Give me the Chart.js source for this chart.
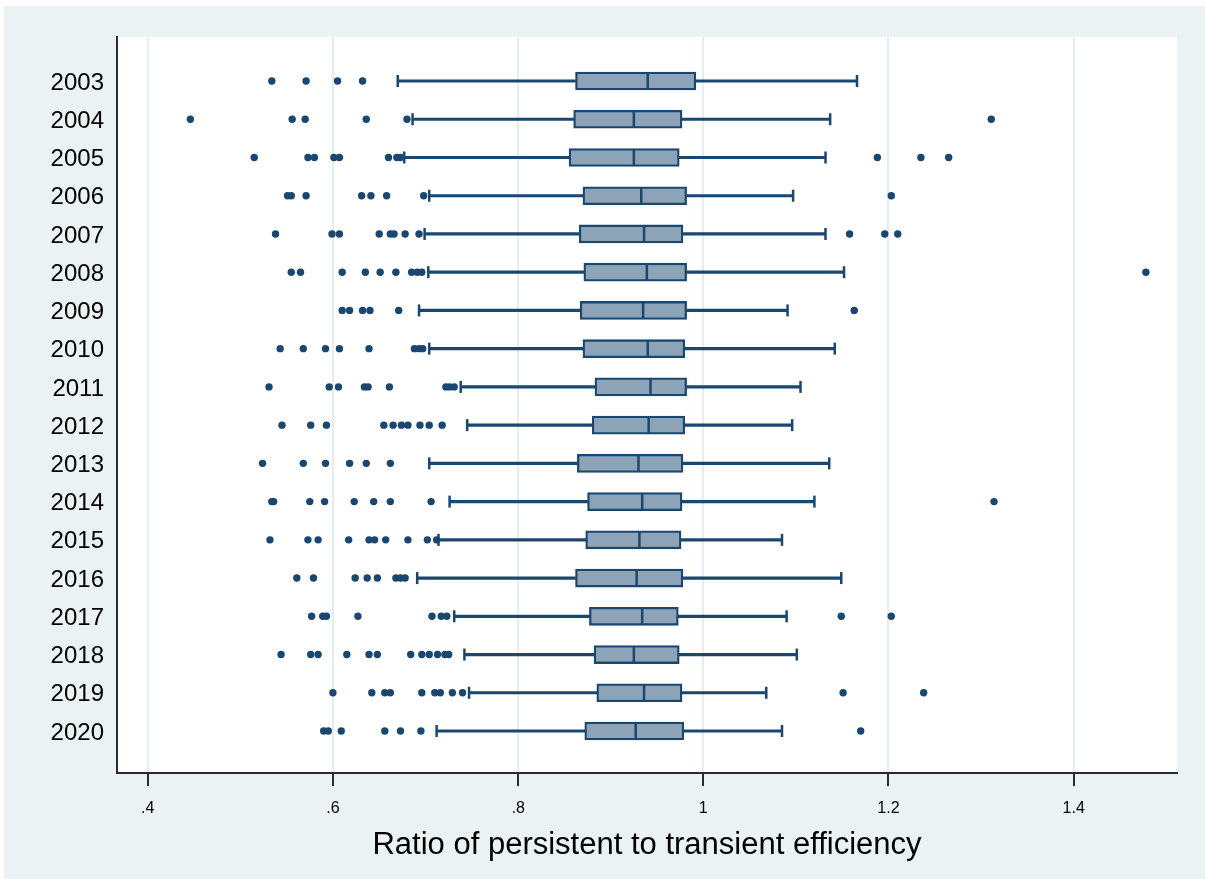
<!DOCTYPE html>
<html>
<head>
<meta charset="utf-8">
<script src="https://cdn.jsdelivr.net/npm/chart.js@4/dist/chart.umd.min.js"></script>
<style>
  html, body { margin: 0; padding: 0; background: #ffffff; }
  #box-chart { display: block; }
</style>
</head>
<body>
<canvas id="box-chart" width="1205" height="879"></canvas>
<script>
const years = ["2003", "2004", "2005", "2006", "2007", "2008", "2009", "2010", "2011",
  "2012", "2013", "2014", "2015", "2016", "2017", "2018", "2019", "2020"];

const lowWhisker = [0.670, 0.686, 0.677, 0.704, 0.699, 0.703, 0.693, 0.704, 0.738,
  0.745, 0.704, 0.726, 0.714, 0.691, 0.731, 0.742, 0.747, 0.712];
const q1 = [0.862, 0.860, 0.855, 0.870, 0.866, 0.871, 0.867, 0.870, 0.883,
  0.880, 0.864, 0.875, 0.873, 0.862, 0.877, 0.882, 0.885, 0.872];
const median = [0.940, 0.925, 0.925, 0.933, 0.936, 0.939, 0.935, 0.940, 0.943,
  0.941, 0.930, 0.934, 0.931, 0.928, 0.934, 0.925, 0.936, 0.927];
const q3 = [0.992, 0.977, 0.974, 0.982, 0.978, 0.982, 0.982, 0.980, 0.982,
  0.980, 0.978, 0.977, 0.976, 0.978, 0.973, 0.974, 0.977, 0.979];
const highWhisker = [1.166, 1.137, 1.132, 1.097, 1.132, 1.152, 1.091, 1.142, 1.105,
  1.096, 1.136, 1.120, 1.085, 1.149, 1.090, 1.101, 1.068, 1.085];

// outside values, one list per year
const outliers = [
  [0.534, 0.571, 0.605, 0.632],
  [0.446, 0.556, 0.570, 0.636, 0.680, 1.311],
  [0.515, 0.573, 0.580, 0.601, 0.607, 0.660, 0.669, 0.673, 1.188, 1.235, 1.265],
  [0.551, 0.555, 0.571, 0.631, 0.641, 0.658, 0.698, 1.203],
  [0.538, 0.599, 0.607, 0.650, 0.662, 0.666, 0.678, 0.693, 1.158, 1.196, 1.210],
  [0.555, 0.565, 0.610, 0.635, 0.651, 0.668, 0.685, 0.691, 0.696, 1.478],
  [0.610, 0.618, 0.632, 0.640, 0.671, 1.163],
  [0.543, 0.568, 0.592, 0.607, 0.639, 0.688, 0.693, 0.697],
  [0.531, 0.596, 0.606, 0.634, 0.638, 0.661, 0.722, 0.726, 0.731],
  [0.545, 0.576, 0.593, 0.655, 0.665, 0.674, 0.681, 0.694, 0.704, 0.718],
  [0.524, 0.568, 0.592, 0.618, 0.636, 0.662],
  [0.534, 0.536, 0.575, 0.591, 0.623, 0.644, 0.662, 0.706, 1.314],
  [0.532, 0.573, 0.584, 0.617, 0.639, 0.645, 0.657, 0.681, 0.702, 0.712],
  [0.561, 0.579, 0.624, 0.637, 0.648, 0.668, 0.673, 0.678],
  [0.577, 0.589, 0.593, 0.627, 0.707, 0.717, 0.723, 1.149, 1.203],
  [0.544, 0.576, 0.584, 0.615, 0.639, 0.648, 0.684, 0.696, 0.704, 0.713, 0.721, 0.725],
  [0.600, 0.642, 0.656, 0.662, 0.696, 0.710, 0.716, 0.729, 0.740, 1.151, 1.238],
  [0.590, 0.595, 0.609, 0.656, 0.673, 0.695, 1.170]
];

const xTickValues = [0.4, 0.6, 0.8, 1, 1.2, 1.4];
const xTickLabels = [".4", ".6", ".8", "1", "1.2", "1.4"];
const xTitle = "Ratio of persistent to transient efficiency";

const NAVY = "#1a476f";
const BOX_FILL = "#8da3b7";
const FONT = "'Liberation Sans', Arial, sans-serif";

function perYear(fn) {
  return years.map((year, i) => fn(i));
}

const backgroundPlugin = {
  id: "stataBackground",
  beforeDraw(chart) {
    const ctx = chart.ctx;
    const area = chart.chartArea;
    ctx.save();
    ctx.fillStyle = "#ffffff";
    ctx.fillRect(0, 0, chart.width, chart.height);
    ctx.fillStyle = "#eaf2f3";
    ctx.fillRect(4, 6, chart.width - 4, chart.height - 6);
    ctx.fillStyle = "#ffffff";
    ctx.fillRect(area.left, area.top, area.right - area.left, area.bottom - area.top);
    ctx.restore();
  }
};

const outlierPoints = [];
outliers.forEach((list, i) => {
  list.forEach(v => outlierPoints.push({ x: v, y: i }));
});

new Chart(document.getElementById("box-chart"), {
  type: "bar",
  data: {
    datasets: [
      {
        type: "scatter",
        label: "median",
        data: perYear(i => ({ x: median[i], y: i })),
        pointStyle: "line",
        rotation: 90,
        pointRadius: 8,
        borderColor: NAVY,
        borderWidth: 2.5
      },
      {
        type: "scatter",
        label: "outside values",
        data: outlierPoints,
        pointStyle: "circle",
        pointRadius: 3.7,
        backgroundColor: NAVY,
        borderWidth: 0
      },
      {
        type: "scatter",
        label: "whisker caps",
        data: perYear(i => ({ x: lowWhisker[i], y: i })).concat(perYear(i => ({ x: highWhisker[i], y: i }))),
        pointStyle: "line",
        rotation: 90,
        pointRadius: 6,
        borderColor: NAVY,
        borderWidth: 2.5
      },
      {
        label: "box",
        data: perYear(i => ({ x: [q1[i], q3[i]], y: i })),
        grouped: false,
        barThickness: 18,
        backgroundColor: BOX_FILL,
        borderColor: NAVY,
        borderWidth: 2.3,
        borderSkipped: false
      },
      {
        label: "lower whisker",
        data: perYear(i => ({ x: [lowWhisker[i], q1[i]], y: i })),
        grouped: false,
        barThickness: 2.5,
        backgroundColor: NAVY,
        borderWidth: 0
      },
      {
        label: "upper whisker",
        data: perYear(i => ({ x: [q3[i], highWhisker[i]], y: i })),
        grouped: false,
        barThickness: 2.5,
        backgroundColor: NAVY,
        borderWidth: 0
      }
    ]
  },
  options: {
    indexAxis: "y",
    responsive: false,
    animation: false,
    devicePixelRatio: 1,
    layout: {
      padding: { top: 37, right: 28, left: 0, bottom: 0 }
    },
    plugins: {
      legend: { display: false },
      tooltip: { enabled: false }
    },
    scales: {
      x: {
        type: "linear",
        min: 0.3668,
        max: 1.5116,
        afterBuildTicks: scale => {
          scale.ticks = xTickValues.map(v => ({ value: v }));
        },
        afterFit: scale => {
          scale.height = 106;
        },
        ticks: {
          autoSkip: false,
          maxRotation: 0,
          padding: 13,
          color: "#000000",
          font: { family: FONT, size: 16 },
          callback: (value, index) => xTickLabels[index]
        },
        grid: {
          color: "#e4edf0",
          lineWidth: 2,
          drawTicks: true,
          tickLength: 13,
          tickColor: "#2b2b2b",
          tickWidth: 2
        },
        border: { display: true, color: "#2b2b2b", width: 2 },
        title: {
          display: true,
          text: xTitle,
          color: "#000000",
          font: { family: FONT, size: 31 },
          padding: { top: 0, bottom: 15 }
        }
      },
      y: {
        type: "linear",
        reverse: true,
        min: -1.151,
        max: 18.098,
        offset: false,
        afterBuildTicks: scale => {
          scale.ticks = years.map((year, i) => ({ value: i }));
        },
        afterFit: scale => {
          scale.width = 117;
        },
        ticks: {
          autoSkip: false,
          padding: 13,
          labelOffset: 2,
          color: "#000000",
          font: { family: FONT, size: 24 },
          callback: (value, index) => years[index]
        },
        grid: { display: false, drawTicks: false, offset: false },
        border: { display: true, color: "#2b2b2b", width: 2 }
      }
    }
  },
  plugins: [backgroundPlugin]
});
</script>
</body>
</html>
